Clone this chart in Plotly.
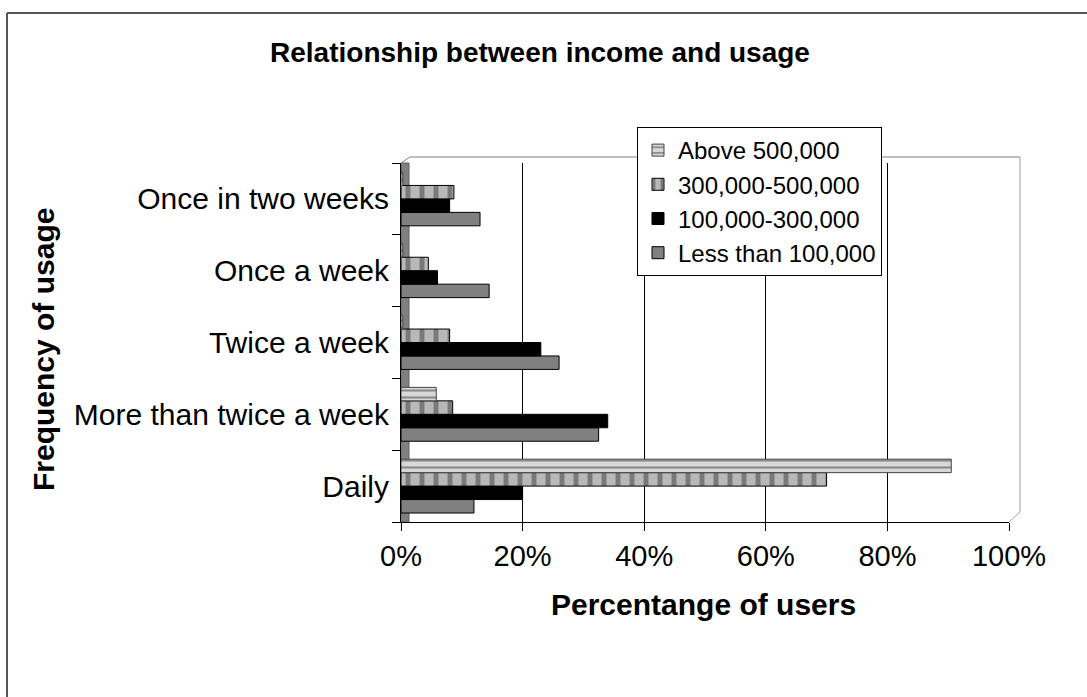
import plotly.graph_objects as go

categories = ["Daily", "More than twice a week", "Twice a week", "Once a week", "Once in two weeks"]
series_names = ["Less than 100,000", "100,000-300,000", "300,000-500,000", "Above 500,000"]
less_100k = [0.12, 0.325, 0.26, 0.145, 0.13]
r100_300k = [0.20, 0.34, 0.23, 0.06, 0.08]
r300_500k = [0.70, 0.085, 0.08, 0.045, 0.087]
above_500k = [0.905, 0.058, 0.003, 0.003, 0.003]
x_ticks = [0, 0.2, 0.4, 0.6, 0.8, 1.0]

W, H = 1087, 697
L, R, T, B = 401, 1009, 163, 522


def px(xp):
    return (xp - L) / (R - L)


def py(yp):
    return (B - yp) / (B - T)


FONT = "Liberation Sans, Arial, sans-serif"

fig = go.Figure()
fig.add_trace(go.Bar(y=categories, x=less_100k, name=series_names[0], orientation="h",
                     marker=dict(color="#808080", line=dict(color="#000000", width=1))))
fig.add_trace(go.Bar(y=categories, x=r100_300k, name=series_names[1], orientation="h",
                     marker=dict(color="#000000", line=dict(color="#000000", width=1))))
fig.add_trace(go.Bar(y=categories, x=r300_500k, name=series_names[2], orientation="h",
                     marker=dict(color="#9a9a9a", line=dict(color="#000000", width=1),
                                 pattern=dict(shape="|", fgcolor="#3a3a3a", bgcolor="#b8b8b8",
                                              size=14, solidity=0.35))))
fig.add_trace(go.Bar(y=categories, x=above_500k, name=series_names[3], orientation="h",
                     marker=dict(color="#cfcfcf", line=dict(color="#444444", width=1),
                                 pattern=dict(shape="-", fgcolor="#3a3a3a", bgcolor="#d8d8d8",
                                              size=7, solidity=0.3))))

shapes = [
    # outer frame (left and top edges)
    dict(type="line", xref="paper", yref="paper", x0=px(7), x1=px(1090), y0=py(13), y1=py(13),
         line=dict(color="#555555", width=2)),
    dict(type="line", xref="paper", yref="paper", x0=px(7), x1=px(7), y0=py(13), y1=py(700),
         line=dict(color="#555555", width=2)),
    # back wall top and right edges
    dict(type="line", xref="paper", yref="paper", x0=px(410), x1=px(1020), y0=py(157), y1=py(157),
         line=dict(color="#808080", width=1)),
    dict(type="line", xref="paper", yref="paper", x0=px(1020), x1=px(1020), y0=py(157), y1=py(512),
         line=dict(color="#a0a0a0", width=1)),
    dict(type="line", xref="paper", yref="paper", x0=px(1009), x1=px(1020), y0=py(522), y1=py(512),
         line=dict(color="#a0a0a0", width=1)),
    # left side wall
    dict(type="rect", xref="paper", yref="paper", x0=px(401), x1=px(409), y0=py(522), y1=py(163),
         fillcolor="#808080", line=dict(color="#606060", width=1), layer="below"),
    dict(type="line", xref="paper", yref="paper", x0=px(401), x1=px(410), y0=py(163), y1=py(157),
         line=dict(color="#808080", width=1)),
]

annotations = [
    dict(text="<b>Frequency of usage</b>", xref="paper", yref="paper", x=px(43), y=py(350),
         showarrow=False, textangle=-90, font=dict(family=FONT, size=30, color="#000000"),
         xanchor="center", yanchor="middle"),
    dict(text="<b>Percentange of users</b>", xref="paper", yref="paper", x=px(703), y=py(604),
         showarrow=False, font=dict(family=FONT, size=30, color="#000000"),
         xanchor="center", yanchor="middle"),
]

fig.update_layout(
    width=W, height=H,
    margin=dict(l=L, r=W - R, t=T, b=H - B),
    paper_bgcolor="#ffffff", plot_bgcolor="#ffffff",
    barmode="group", bargap=0.25, bargroupgap=0,
    title=dict(text="<b>Relationship between income and usage</b>", x=540 / W, xanchor="center",
               y=1 - 52 / H, yanchor="middle", font=dict(family=FONT, size=28, color="#000000")),
    legend=dict(x=px(637), y=py(127), xanchor="left", yanchor="top", traceorder="reversed",
                bordercolor="#000000", borderwidth=1, bgcolor="#ffffff",
                font=dict(family=FONT, size=24, color="#000000"), tracegroupgap=0,
                itemwidth=30),
    shapes=shapes, annotations=annotations,
    showlegend=True,
)
fig.update_xaxes(range=[0, 1], tickvals=x_ticks, tickformat=".0%", showgrid=True, gridcolor="#000000",
                 gridwidth=1, zeroline=False, showline=True, linecolor="#000000", linewidth=1,
                 ticks="outside", ticklen=8, tickcolor="#000000",
                 tickfont=dict(family=FONT, size=29, color="#000000"))
fig.update_yaxes(type="category", categoryorder="array", categoryarray=categories,
                 range=[-0.5, 4.5], tickson="boundaries", showgrid=False, zeroline=False,
                 showline=True, linecolor="#000000", linewidth=1, ticks="outside", ticklen=8,
                 tickcolor="#000000", ticklabelstandoff=5,
                 tickfont=dict(family=FONT, size=30, color="#000000"))

fig.write_html("out.html")
